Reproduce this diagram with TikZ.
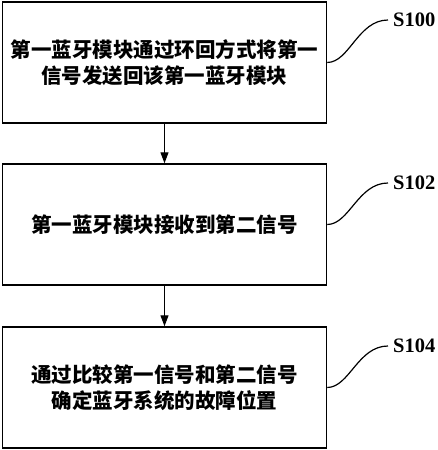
\documentclass[tikz,border=0pt]{standalone}
\usepackage{fontspec}
\setmainfont{Liberation Serif}
\newfontfamily\cjk{Noto Sans CJK SC}
\usetikzlibrary{arrows.meta}

\tikzset{
  stepbox/.style={draw, line width=1.5pt, minimum width=324pt, minimum height=121pt,
    align=center, font=\cjk\bfseries\fontsize{20.5}{26}\selectfont},
  steplabel/.style={anchor=west, inner xsep=5pt, inner ysep=0pt,
    font=\bfseries\fontsize{20.5}{24}\selectfont},
  leader/.style={line width=1.2pt}
}

\begin{document}
\begin{tikzpicture}[x=1pt, y=-1pt, >={Triangle[length=11pt,width=8pt]}]
  \useasboundingbox (0,0) rectangle (437,450);

  \node[stepbox] (b1) at (164.5,62.5) {第一蓝牙模块通过环回方式将第一\\信号发送回该第一蓝牙模块};
  \node[stepbox] (b2) at (164.5,224.5) {第一蓝牙模块接收到第二信号};
  \node[stepbox] (b3) at (164.5,387.5) {通过比较第一信号和第二信号\\确定蓝牙系统的故障位置};

  \draw[line width=1.2pt, ->] (b1.south) -- (b2.north);
  \draw[line width=1.2pt, ->] (b2.south) -- (b3.north);

  % step numbers
  \node[steplabel] (s1) at (388,20) {S100};
  \node[steplabel] (s2) at (388,183) {S102};
  \node[steplabel] (s3) at (388,346) {S104};

  \draw[leader] (b1.east) .. controls +(22,0) and +(-30,0) .. (s1.west);
  \draw[leader] (b2.east) .. controls +(22,0) and +(-30,0) .. (s2.west);
  \draw[leader] (b3.east) .. controls +(22,0) and +(-30,0) .. (s3.west);
\end{tikzpicture}
\end{document}
